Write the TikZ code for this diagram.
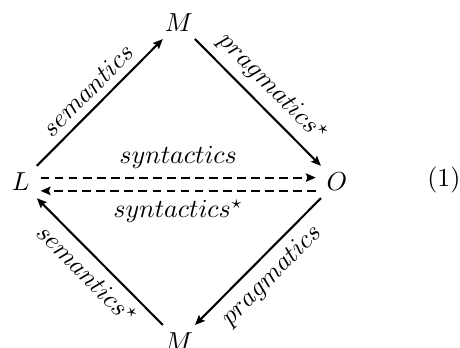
\documentclass[tikz,border=0pt]{standalone}
\usepackage{tikz}
\usetikzlibrary{arrows.meta, positioning, calc}
\tikzset{
  sign/obj/.style    = {inner sep=2.6pt, font=\normalsize},
  sign/arrow/.style  = {-{Stealth[length=3.8pt, width=3.2pt, inset=0.6pt]}, thick, draw=black},
  sign/dashed/.style = {sign/arrow, dash pattern=on 3.4pt off 2pt,
                        shorten <=1.4pt, shorten >=1.4pt},
  sign/label/.style  = {sloped, midway, inner sep=3pt},
}

\begin{document}
\begin{tikzpicture}
  % --- Corner positions of the square (turned 45 degrees) ---
  \def\xSide {60.8pt}
  \def\yTip  {61.2pt}
  \useasboundingbox (-68.8pt,-63.5pt) rectangle (108.1pt,70pt);
  % --- Objects ---
  \node[sign/obj] (L)  at (-\xSide, 0) {$L$};
  \node[sign/obj] (O)  at (\xSide, 0)  {$O$};
  \node[sign/obj] (Mt) at (0, \yTip)   {$M$};
  \node[sign/obj] (Mb) at (0, -\yTip)  {$M$};
  % --- Solid arrows round the square ---
  \draw[sign/arrow] (L)  -- node[sign/label, above] {$semantics$}          (Mt);
  \draw[sign/arrow] (Mt) -- node[sign/label, above] {$pragmatics^\star$}   (O);
  \draw[sign/arrow] (O)  -- node[sign/label, below] {$pragmatics$}         (Mb);
  \draw[sign/arrow] (Mb) -- node[sign/label, below] {$semantics^\star$}    (L);
  % --- Dashed pair between L and O (on the math axis) ---
  \draw[sign/dashed] ([yshift=1.7pt]L.east)  -- node[above, inner sep=3pt] {$syntactics$}       ([yshift=1.7pt]O.west);
  \draw[sign/dashed] ([yshift=-3.4pt]O.west) -- node[below, inner sep=3pt] {$syntactics^\star$} ([yshift=-3.4pt]L.east);
  % --- Equation number ---
  \node (eqn) at (101.9pt, 0.8pt) {(1)};
\end{tikzpicture}
\end{document}
